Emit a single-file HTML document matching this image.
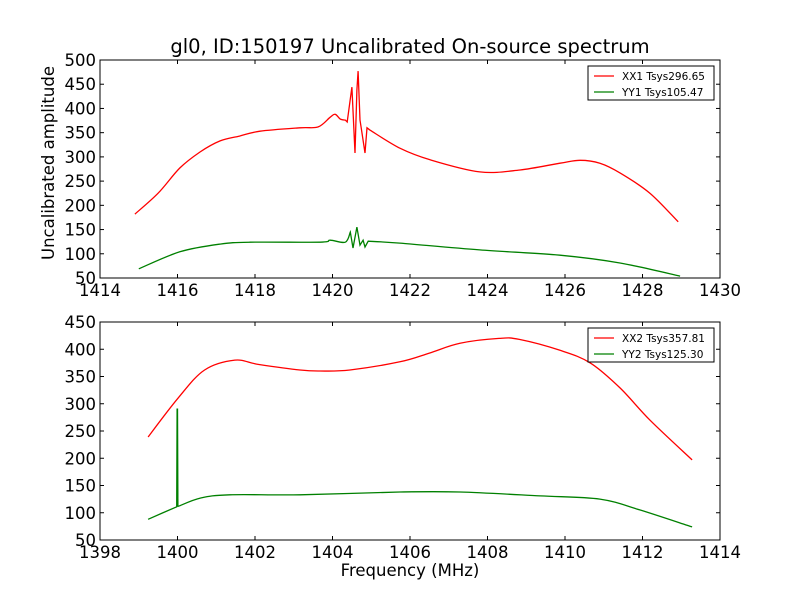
<!DOCTYPE html>
<html><head><meta charset="utf-8"><style>
body{margin:0;background:#fff}
svg{font-family:"DejaVu Sans","Liberation Sans",sans-serif}
</style></head><body>
<svg id="c" width="800" height="600"></svg>
<script>
const topFreq=[1414.9,1415.5,1416.06,1416.58,1417.1,1417.6,1418.13,1419.16,1419.63,1419.94,1420.07,1420.2,1420.33,1420.38,1420.5,1420.58,1420.63,1420.66,1420.71,1420.74,1420.84,1420.89,1420.97,1421.74,1422.52,1423.8,1424.84,1425.87,1426.39,1426.9,1427.42,1428.19,1428.92];
const topXX=[182,225,277,310,333,343,353,360,362,382,388,378,376,372,444,308,438,477,376,360,308,360,355,318,294,269,273,287,293,287,267,225,166];
const topFreqY=[1415,1416.06,1417.1,1417.87,1419.68,1419.94,1420.33,1420.46,1420.53,1420.63,1420.71,1420.79,1420.84,1420.92,1421.74,1423.8,1425.87,1427.42,1428.97];
const topYY=[69,104,120,124,124,128,124,145,112,155,118,128,114,126,122,108,97,81,54];
const botFreq=[1399.24,1400.01,1400.7,1401.48,1402.1,1403.16,1403.68,1404.45,1405.74,1406.5,1407.29,1408.3,1408.82,1409.87,1410.65,1411.42,1412.19,1413.28];
const botXX=[239,310,362,380,372,362,360,362,377,393,411,420,418,398,375,329,270,197];
const botFreqY=[1399.24,1399.98,1399.99,1400.0,1400.01,1400.03,1400.6,1401.35,1403.16,1405.74,1407.29,1409.36,1410.9,1411.94,1413.28];
const botYY=[88,111,290,290,112,112,127,133,133,138,138,131,125,105,74];
const topXTicks=[1414,1416,1418,1420,1422,1424,1426,1428,1430];
const topYTicks=[50,100,150,200,250,300,350,400,450,500];
const botXTicks=[1398,1400,1402,1404,1406,1408,1410,1412,1414];
const botYTicks=[50,100,150,200,250,300,350,400,450];
const legTop=["XX1 Tsys296.65","YY1 Tsys105.47"];
const legBot=["XX2 Tsys357.81","YY2 Tsys125.30"];

const svg=document.getElementById('c');const NS='http://www.w3.org/2000/svg';
function mk(t,a,p){const e=document.createElementNS(NS,t);for(const k in a)e.setAttribute(k,a[k]);(p||svg).appendChild(e);return e;}
function smooth(P){
  const f=v=>v.toFixed(1);
  let d='M'+f(P[0][0])+','+f(P[0][1]);
  for(let i=0;i<P.length-1;i++){
    const p1=P[i],p2=P[i+1];
    let p0=P[i-1]||p1,p3=P[i+2]||p2;
    if(p2[0]-p1[0]<4){d+=' L'+f(p2[0])+','+f(p2[1]);continue;}
    if(p1[0]-p0[0]<4)p0=p1;
    if(p3[0]-p2[0]<4)p3=p2;
    const c1=[p1[0]+(p2[0]-p0[0])/6,p1[1]+(p2[1]-p0[1])/6];
    const c2=[p2[0]-(p3[0]-p1[0])/6,p2[1]-(p3[1]-p1[1])/6];
    d+=' C'+f(c1[0])+','+f(c1[1])+' '+f(c2[0])+','+f(c2[1])+' '+f(p2[0])+','+f(p2[1]);
  }
  return d;
}
function panel(name,x0,x1,y0,y1,xmin,xmax,ymin,ymax,xt,yt,series,leg){
  const g=mk('g',{});
  
  
  const sx=v=>x0+(v-xmin)/(xmax-xmin)*(x1-x0);
  const sy=v=>y1-(v-ymin)/(ymax-ymin)*(y1-y0);
  series.forEach(s=>{
    const P=s.f.map((fq,i)=>[sx(fq),sy(s.v[i])]);
    const pl=mk('path',{d:smooth(P),fill:'none',stroke:s.c,'stroke-width':1.3},g);
    
    
  });
  const fr=mk('rect',{x:x0,y:y0,width:x1-x0,height:y1-y0,fill:'none',stroke:'#000'},g);
  
  
  xt.forEach(v=>{const X=sx(v);
    mk('line',{x1:X,x2:X,y1:y1,y2:y1-4,stroke:'#000'},g);mk('line',{x1:X,x2:X,y1:y0,y2:y0+4,stroke:'#000'},g);
    const t=mk('text',{x:X,y:y1+18,'text-anchor':'middle','font-size':16.5},g);t.textContent=v;
    
    });
  yt.forEach(v=>{const Y=sy(v);
    mk('line',{x1:x0,x2:x0+4,y1:Y,y2:Y,stroke:'#000'},g);mk('line',{x1:x1,x2:x1-4,y1:Y,y2:Y,stroke:'#000'},g);
    const t=mk('text',{x:x0-4,y:Y+6,'text-anchor':'end','font-size':16.5},g);t.textContent=v;
    
    });
  const lg=mk('g',{},g);
  
  
  mk('rect',{x:x1-132,y:y0+6,width:126,height:34,fill:'#fff',stroke:'#000'},lg);
  leg.forEach((s,i)=>{const Y=y0+16+i*16;
    mk('line',{x1:x1-126,x2:x1-106,y1:Y,y2:Y,stroke:series[i].c,'stroke-width':1.3},lg);
    const t=mk('text',{x:x1-98,y:Y+4,'font-size':10.5},lg);t.textContent=s;
    
    });
}
panel('top-panel',100,720,60,278,1414,1430,50,500,topXTicks,topYTicks,
 [{f:topFreq,v:topXX,c:'#f00',n:'xx1-line'},{f:topFreqY,v:topYY,c:'#008000',n:'yy1-line'}],legTop);
panel('bottom-panel',100,720,322,540,1398,1414,50,450,botXTicks,botYTicks,
 [{f:botFreq,v:botXX,c:'#f00',n:'xx2-line'},{f:botFreqY,v:botYY,c:'#008000',n:'yy2-line'}],legBot);
let t=mk('text',{x:410,y:53,'text-anchor':'middle','font-size':19.5});t.textContent='gl0, ID:150197 Uncalibrated On-source spectrum';


t=mk('text',{x:54,y:163,'text-anchor':'middle','font-size':16.5,transform:'rotate(-90 54 163)'});t.textContent='Uncalibrated amplitude';


t=mk('text',{x:410,y:576,'text-anchor':'middle','font-size':16.5});t.textContent='Frequency (MHz)';


</script>
</body></html>
